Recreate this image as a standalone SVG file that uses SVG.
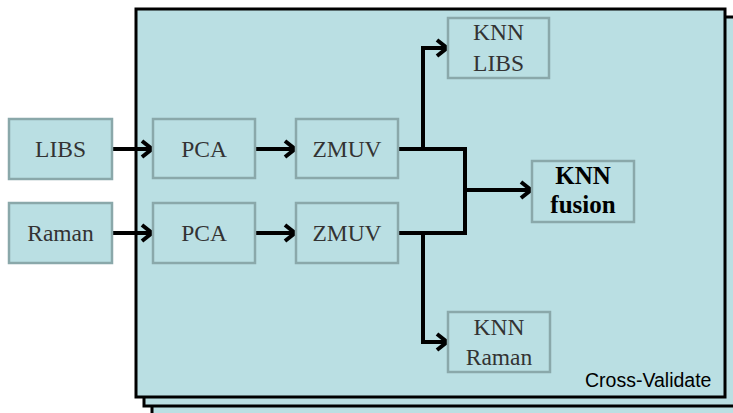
<svg xmlns="http://www.w3.org/2000/svg" width="733" height="413" viewBox="0 0 733 413">
<style>
.frame{fill:#badfe3;stroke:#000;stroke-width:3}
.node{fill:#badfe3;stroke:#8aa8aa;stroke-width:2.5}
.t{font-family:"Liberation Serif","Times New Roman",serif;font-size:23.5px;fill:#333;text-anchor:middle}
.b{font-family:"Liberation Serif","Times New Roman",serif;font-size:25px;font-weight:bold;fill:#000;text-anchor:middle}
.cv{font-family:"Liberation Sans",Arial,sans-serif;font-size:19.5px;fill:#000}
.c{fill:none;stroke:#000;stroke-width:4;stroke-linejoin:miter}
</style>
<defs>
<marker id="ah" markerUnits="userSpaceOnUse" markerWidth="16" markerHeight="20" refX="13" refY="10" orient="auto" viewBox="0 0 16 20">
<path d="M3,2 L13,10 L3,18" fill="none" stroke="#000" stroke-width="4"/>
</marker>
</defs>
<g id="frames">
<rect class="frame" x="152" y="25" width="600" height="400"/>
<rect class="frame" x="144" y="17" width="600" height="389"/>
<rect class="frame" x="136" y="9" width="589" height="388"/>
<text class="cv" x="585" y="387">Cross-Validate</text>
</g>
<g id="connectors">
<line class="c" x1="112" y1="149" x2="152" y2="149" marker-end="url(#ah)"/>
<line class="c" x1="112" y1="233" x2="152" y2="233" marker-end="url(#ah)"/>
<line class="c" x1="255" y1="149" x2="295" y2="149" marker-end="url(#ah)"/>
<line class="c" x1="255" y1="233" x2="295" y2="233" marker-end="url(#ah)"/>
<polyline class="c" points="398,149 465,149 465,233 398,233"/>
<line class="c" x1="465" y1="190" x2="531" y2="190" marker-end="url(#ah)"/>
<polyline class="c" points="423,149 423,48 447,48" marker-end="url(#ah)"/>
<polyline class="c" points="423,233 423,342 447,342" marker-end="url(#ah)"/>
</g>
<g id="libs"><rect class="node" x="9" y="119" width="103" height="60"/><text class="t" x="60.5" y="157">LIBS</text></g>
<g id="raman"><rect class="node" x="9" y="203" width="103" height="60"/><text class="t" x="60.5" y="241">Raman</text></g>
<g id="pca1"><rect class="node" x="153" y="119" width="102" height="59"/><text class="t" x="204" y="157">PCA</text></g>
<g id="pca2"><rect class="node" x="153" y="203" width="102" height="60"/><text class="t" x="204" y="241">PCA</text></g>
<g id="zmuv1"><rect class="node" x="296" y="119" width="102" height="59"/><text class="t" x="347" y="157">ZMUV</text></g>
<g id="zmuv2"><rect class="node" x="296" y="203" width="102" height="60"/><text class="t" x="347" y="241">ZMUV</text></g>
<g id="knn-libs"><rect class="node" x="448" y="18" width="101" height="60"/><text class="t" x="498.5" y="40">KNN</text><text class="t" x="498.5" y="71">LIBS</text></g>
<g id="knn-fusion"><rect class="node" x="532" y="161" width="102" height="61"/><text class="b" x="583" y="184">KNN</text><text class="b" x="583" y="213">fusion</text></g>
<g id="knn-raman"><rect class="node" x="448" y="312" width="102" height="60"/><text class="t" x="499" y="335">KNN</text><text class="t" x="499" y="365">Raman</text></g>
</svg>
